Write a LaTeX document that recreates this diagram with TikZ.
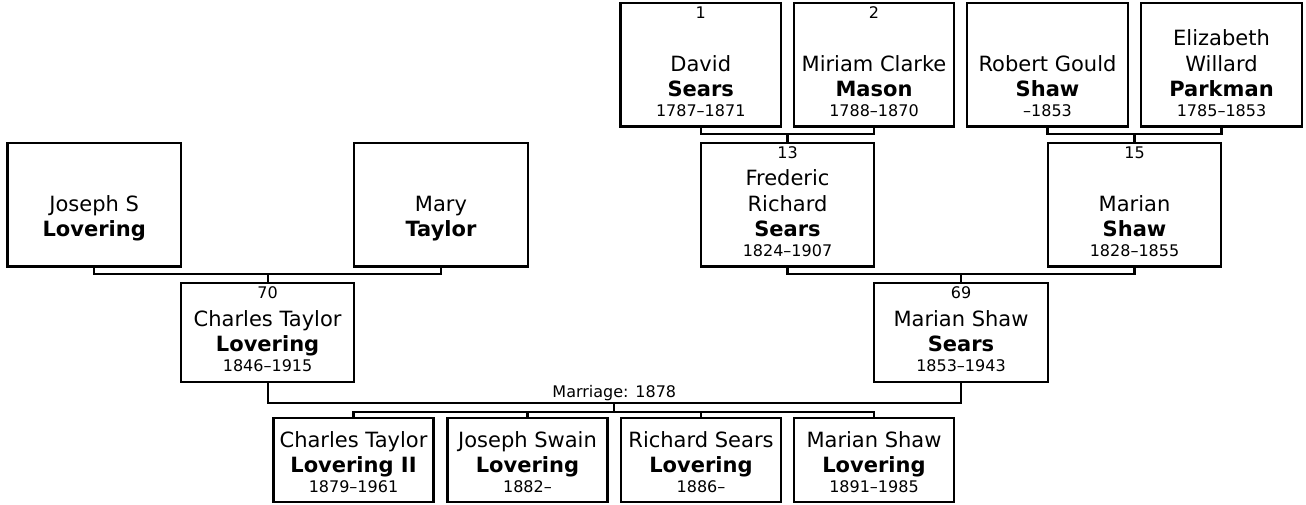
\documentclass[tikz,border=0pt]{standalone}
\usepackage{fontspec}
\setmainfont{DejaVu Sans}
\usetikzlibrary{calc}
\newcommand\nm{\fontsize{21}{25.5}\selectfont}
\newcommand\yrs{\fontsize{16}{19}\selectfont}
\newcommand\who[3]{#1\\\textbf{#2}\\[-5.5pt]{\yrs\vphantom{0}#3}}
\begin{document}
\begin{tikzpicture}[x=1pt,y=-1pt,line width=2.1pt,
  box/.style={draw,inner sep=0pt,minimum width=160.5,minimum height=123.5},
  wide/.style={box,minimum width=173.5},
  short/.style={wide,minimum height=98.5},
  kid/.style={box,minimum width=160,minimum height=84},
  who/.style={anchor=south,align=center,inner sep=0pt,yshift=9.5pt,font=\nm},
  num/.style={anchor=north,inner sep=0pt,yshift=-3.5pt,font=\yrs}]
  \useasboundingbox (0,0) rectangle (1306,504);
  % top row
  \node[box,label={[num]north:1},label={[who]south:{\who{David}{Sears}{1787–1871}}}] (david) at (700.75,64.75) {};
  \node[box,label={[num]north:2},label={[who]south:{\who{Miriam Clarke}{Mason}{1788–1870}}}] (miriam) at (874,64.75) {};
  \node[box,label={[who]south:{\who{Robert Gould}{Shaw}{–1853}}}] (robert) at (1047.5,64.75) {};
  \node[box,label={[who]south:{\who{Elizabeth\\Willard}{Parkman}{1785–1853}}}] (elizabeth) at (1221.5,64.75) {};
  % second row
  \node[wide,label={[who]south:{\who{Joseph S}{Lovering}{}}}] (joseph) at (94.2,204.75) {};
  \node[wide,label={[who]south:{\who{Mary}{Taylor}{}}}] (mary) at (441,204.75) {};
  \node[wide,label={[num]north:13},label={[who]south:{\who{Frederic\\Richard}{Sears}{1824–1907}}}] (frederic) at (787.5,204.75) {};
  \node[wide,label={[num]north:15},label={[who]south:{\who{Marian}{Shaw}{1828–1855}}}] (marian) at (1134.5,204.75) {};
  % couple
  \node[short,label={[num]north:70},label={[who]south:{\who{Charles Taylor}{Lovering}{1846–1915}}}] (charles) at (267.6,332.3) {};
  \node[short,label={[num]north:69},label={[who]south:{\who{Marian Shaw}{Sears}{1853–1943}}}] (mariansh) at (961,332.3) {};
  % children
  \foreach \i/\px/\g/\s/\d in {1/353.5/Charles Taylor/Lovering II/1879–1961,
      2/527.5/Joseph Swain/Lovering/1882–,3/701/Richard Sears/Lovering/1886–,
      4/874/Marian Shaw/Lovering/1891–1985}
    \node[kid,label={[who]south:{\who{\g}{\s}{\d}}}] (kid\i) at (\px,460.3) {};
  % parents
  \coordinate (dm) at ($(frederic.north)+(0,-8.25)$);
  \coordinate (re) at ($(marian.north)+(0,-8.25)$);
  \coordinate (jm) at ($(charles.north)+(0,-8.25)$);
  \coordinate (fm) at ($(mariansh.north)+(0,-8.25)$);
  \draw (david.south) |- (dm) -| (miriam.south) (dm) -- (frederic.north);
  \draw (robert.south) |- (re) -| (elizabeth.south) (re) -- (marian.north);
  \draw (joseph.south) |- (jm) -| (mary.south) (jm) -- (charles.north);
  \draw (frederic.south) |- (fm) -| (marian.south) (fm) -- (mariansh.north);
  % marriage
  \coordinate (wed) at ($(charles.south)!.5!(mariansh.south)+(0,20.6)$);
  \coordinate (kidbar) at ($(wed)+(0,8.4)$);
  \draw (charles.south) |- (wed) -| (mariansh.south) (wed) -- (kidbar);
  \node[font=\yrs,anchor=base,inner sep=0pt] (wedtxt) at ($(wed)+(0,-5.6)$) {Marriage: 1878};
  \draw (kid1.north) |- (kidbar) -| (kid4.north);
  \foreach \i in {2,3} \draw (kid\i.north) -- (kid\i.north |- kidbar);
\end{tikzpicture}
\end{document}
